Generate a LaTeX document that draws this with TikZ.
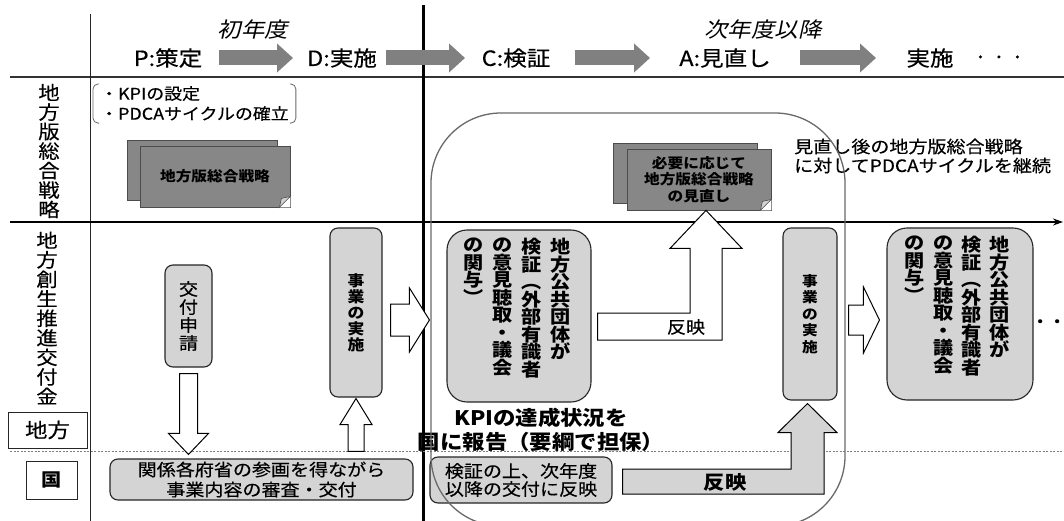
\documentclass[tikz,border=0pt]{standalone}
\usepackage{fontspec}
\setmainfont{Noto Sans CJK JP}[FakeStretch=1.12,UprightFeatures={FakeBold=0.35}]
\newfontfamily\jpslant{Noto Sans CJK JP}[FakeStretch=1.12,FakeSlant=0.22]
\usetikzlibrary{arrows.meta,calc}
\definecolor{hdrgray}{RGB}{128,128,128}
\definecolor{boxgray}{RGB}{212,212,212}
\definecolor{docgray}{RGB}{135,135,135}
\definecolor{linegray}{RGB}{105,105,105}
\newcommand\fsz[2]{\fontsize{#1}{#2}\selectfont\lineskiplimit=-30pt\relax}
\begin{document}
\begin{tikzpicture}[x=1pt,y=-1pt,
  hdr/.style={font=\fsz{21}{24}, inner sep=0pt},
  hdrit/.style={font=\jpslant\fsz{21}{24}, inner sep=0pt},
  hdrarrow/.style={draw=hdrgray, line width=15pt, -{Triangle[length=16pt,width=28pt]}},
  rowlab/.style={align=center, inner sep=0pt, font=\fsz{19}{19.5}},
  vbox/.style={draw=black!85, fill=boxgray, line width=1.1pt, rounded corners=8pt, inner sep=0pt, align=center},
  bigbox/.style={vbox, rounded corners=20pt},
  vtxt/.style={align=center, inner sep=0pt, anchor=north, font=\bfseries\fsz{18}{17.5}},
  hollow/.style={draw=black, fill=white, line width=1pt},
  docback/.style={draw=black!70, fill=docgray, line width=0.8pt, inner sep=0pt},
  docfront/.style={docback, font=\bfseries\fsz{14}{16.5}, align=center},
  labbox/.style={draw=black!85, line width=1pt, inner sep=0pt},
  fold/.style={fill=gray!35, draw=black!70, line width=0.6pt},
]
\useasboundingbox (0,0) rectangle (1064,521);
\fill[white] (0,0) rectangle (1064,521);

% ---- grid lines
\draw[line width=1.5pt, black!80] (10,77) -- (1064,77);
\draw[line width=0.9pt, black!85] (90,14) -- (90,521);
\draw[line width=3pt] (423,5) -- (423,521);
\draw[line width=1.2pt, -{Stealth[length=10pt,width=7pt]}] (10,222) -- (1063,222);
\draw[gray, line width=0.9pt, dash pattern=on 2pt off 1.5pt] (10,451) -- (1064,451);

% ---- header
\node[hdrit] (y1) at (253,30) {初年度};
\node[hdrit] (y2) at (763,30) {次年度以降};
\node[hdr] (P) at (168,58) {P:策定};
\node[hdr] (D) at (342,58) {D:実施};
\node[hdr] (C) at (516,58) {C:検証};
\node[hdr] (A) at (725,58) {A:見直し};
\node[hdr] (I) at (930,58) {実施};
\node[hdr] (dots) at (999,60) {· · ·};
\coordinate (h1a) at (219,58); \coordinate (h1b) at (293,58);
\coordinate (h2a) at (386,58); \coordinate (h2b) at (465,58);
\coordinate (h3a) at (575,58); \coordinate (h3b) at (650,58);
\coordinate (h4a) at (800,58); \coordinate (h4b) at (876,58);
\draw[hdrarrow] (h1a) -- (h1b);
\draw[hdrarrow] (h2a) -- (h2b);
\draw[hdrarrow] (h3a) -- (h3b);
\draw[hdrarrow] (h4a) -- (h4b);

% ---- row labels
\node[rowlab] (lab1) at (49,151) {地\\方\\版\\総\\合\\戦\\略};
\node[rowlab] (lab2) at (47,318) {地\\方\\創\\生\\推\\進\\交\\付\\金};
\node[labbox, minimum width=79pt, minimum height=36pt, font=\fsz{20}{22}] (chiho) at (47.5,430) {地方};
\node[labbox, minimum width=51pt, minimum height=38pt, font=\bfseries\fsz{18}{20}] (kuni) at (51.5,480) {国};

% ---- upper band
\node[inner xsep=7pt, inner ysep=2pt, align=left, anchor=north west, font=\fsz{16}{20}] (kpi) at (93,84) {・KPIの設定\\・PDCAサイクルの確立};
\draw[linegray, line width=0.8pt, rounded corners=5pt] ([xshift=6pt]kpi.north west) -- (kpi.north west) -- (kpi.south west) -- ([xshift=6pt]kpi.south west);
\draw[linegray, line width=0.8pt, rounded corners=5pt] ([xshift=-6pt]kpi.north east) -- (kpi.north east) -- (kpi.south east) -- ([xshift=-6pt]kpi.south east);

\node[docback, minimum width=150pt, minimum height=60pt] (d1b) at (202,170) {};
\node[docfront, minimum width=150pt, minimum height=61pt] (d1) at (215,176.5) {地方版総合戦略};
\fill[white] ($(d1.south east)+(0,-11)$) -- (d1.south east) -- ($(d1.south east)+(-11,0)$) -- cycle;
\filldraw[fold] ($(d1.south east)+(0,-11)$) -- ($(d1.south east)+(-11,0)$) -- ($(d1.south east)+(-9,-9)$) -- cycle;

\node[docback, minimum width=144pt, minimum height=60pt] (d2b) at (685,173) {};
\node[docfront, minimum width=144pt, minimum height=61pt] (d2) at (699,179.5) {必要に応じて\\地方版総合戦略\\の見直し};
\fill[white] ($(d2.south east)+(0,-11)$) -- (d2.south east) -- ($(d2.south east)+(-11,0)$) -- cycle;
\filldraw[fold] ($(d2.south east)+(0,-11)$) -- ($(d2.south east)+(-11,0)$) -- ($(d2.south east)+(-9,-9)$) -- cycle;

\node[anchor=west, align=left, inner sep=0pt, font=\fsz{17}{19}] (cont) at (794,156) {見直し後の地方版総合戦略\\に対してPDCAサイクルを継続};

% ---- lower band boxes
\node[vbox, minimum width=47pt, minimum height=102pt, font=\fsz{17}{18}] (kofu) at (188.5,316) {交\\付\\申\\請};
\node[vbox, minimum width=52pt, minimum height=169pt, font=\bfseries\fsz{15}{16}] (jig1) at (356,312.5) {事\\業\\の\\実\\施};
\node[bigbox, minimum width=144pt, minimum height=172pt] (chk1) at (519,316) {};
\node[vtxt] (c1a) at (561,238) {地\\方\\公\\共\\団\\体\\が};
\node[vtxt] (c1b) at (532,238) {検\\証\\︵\\外\\部\\有\\識\\者};
\node[vtxt] (c1c) at (503,238) {の\\意\\見\\聴\\取\\・\\議\\会};
\node[vtxt] (c1d) at (474,238) {の\\関\\与\\︶};
\node[vbox, minimum width=54pt, minimum height=172pt, font=\bfseries\fsz{14}{16.4}] (jig2) at (810,314) {事\\業\\の\\実\\施};
\node[bigbox, minimum width=146pt, minimum height=172pt] (chk2) at (960,314) {};
\node[vtxt] (c2a) at (1000,236) {地\\方\\公\\共\\団\\体\\が};
\node[vtxt] (c2b) at (972,236) {検\\証\\︵\\外\\部\\有\\識\\者};
\node[vtxt] (c2c) at (944,236) {の\\意\\見\\聴\\取\\・\\議\\会};
\node[vtxt] (c2d) at (915,236) {の\\関\\与\\︶};
\node[font=\bfseries\fsz{18}{18}, inner sep=0pt] (more) at (1049,324) {· ·};

\node[vbox, minimum width=303pt, minimum height=41pt, font=\fsz{17}{20}] (kankei) at (261.5,479.5) {関係各府省の参画を得ながら\\事業内容の審査・交付};
\node[vbox, minimum width=182pt, minimum height=46pt, font=\fsz{17}{18}] (kensho) at (521,480) {検証の上、次年度\\以降の交付に反映};
\node[font=\bfseries\fsz{20}{24}, align=center, inner sep=0pt] (kpirep) at (541,430) {KPIの達成状況を\\国に報告（要綱で担保）};

% ---- hollow arrows
\draw[hollow] let \p1=(kofu.south), \p2=(kankei.north) in
  (\x1-9pt,\y1-6pt) -- (\x1+9pt,\y1-6pt) -- (\x1+9pt,\y2+25pt) -- (\x1+20pt,\y2+25pt) -- (\x1,\y2+4pt) -- (\x1-20pt,\y2+25pt) -- (\x1-9pt,\y2+25pt) -- cycle;
\draw[hollow] let \p1=(jig1.south), \p2=(kankei.north) in
  (\x1-8pt,\y2+7pt) -- (\x1+8pt,\y2+7pt) -- (\x1+8pt,\y1-27pt) -- (\x1+16pt,\y1-27pt) -- (\x1,\y1-1pt) -- (\x1-16pt,\y1-27pt) -- (\x1-8pt,\y1-27pt) -- cycle;
\draw[hollow] let \p1=(jig1.east), \p2=(chk1.west) in
  (\x1+8pt,\y2+12pt) -- (\x2-37pt,\y2+12pt) -- (\x2-37pt,\y2+28pt) -- (\x2-17pt,\y2-4pt) -- (\x2-37pt,\y2-36pt) -- (\x2-37pt,\y2-20pt) -- (\x1+8pt,\y2-20pt) -- cycle;
\draw[hollow] let \p1=(jig2.east), \p2=(chk2.west) in
  (\x1+11pt,\y2+9pt) -- (\x2-23pt,\y2+9pt) -- (\x2-23pt,\y2+27pt) -- (\x2-7pt,\y2-6pt) -- (\x2-23pt,\y2-39pt) -- (\x2-23pt,\y2-21pt) -- (\x1+11pt,\y2-21pt) -- cycle;
\draw[hollow] let \p1=(chk1.east), \p2=(d2.south) in
  (\x1+6pt,\y1-24pt) -- (\x2+23pt,\y1-24pt) -- (\x2+23pt,\y2-38pt) -- (\x2+43pt,\y2-38pt) -- (\x2+7pt,\y2) -- (\x2-29pt,\y2-38pt) -- (\x2-9pt,\y2-38pt) -- (\x2-9pt,\y1+3pt) -- (\x1+6pt,\y1+3pt) -- cycle;
\node[font=\fsz{17}{17}, inner sep=0pt] (ref1) at (686,327) {反映};
\draw[hollow, fill=boxgray] let \p1=(kensho.east), \p2=(jig2.south) in
  (\x1+10pt,\y1-14pt) -- (\x2+14pt,\y1-14pt) -- (\x2+14pt,\y2-32pt) -- (\x2+27pt,\y2-32pt) -- (\x2-2.5pt,\y2-3pt) -- (\x2-32pt,\y2-32pt) -- (\x2-19pt,\y2-32pt) -- (\x2-19pt,\y1+11pt) -- (\x1+10pt,\y1+11pt) -- cycle;
\node[font=\bfseries\fsz{19}{19}, inner sep=0pt] (ref2) at (725,482) {反映};

% ---- group outline
\node[draw=linegray, line width=1.3pt, rounded corners=70pt, minimum width=414pt, minimum height=413pt, inner sep=0pt] (grp) at (638,319.5) {};
\end{tikzpicture}
\end{document}
